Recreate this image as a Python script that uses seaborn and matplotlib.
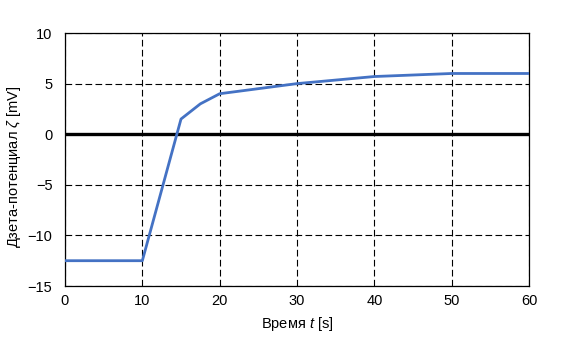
import matplotlib
matplotlib.use("Agg")
import matplotlib.pyplot as plt
import seaborn as sns
import pandas as pd

time_s = [0, 10, 15, 17.5, 20, 30, 40, 50, 60]
zeta_mv = [-12.5, -12.5, 1.5, 3.0, 4.0, 5.0, 5.7, 6.0, 6.0]
x_ticks = [0, 10, 20, 30, 40, 50, 60]
y_ticks = [-15, -10, -5, 0, 5, 10]

sns.set_theme(style="white")
plt.rcParams['font.family'] = ['Liberation Sans', 'DejaVu Sans']
plt.rcParams['mathtext.fontset'] = 'custom'
plt.rcParams['mathtext.rm'] = 'Liberation Sans'
plt.rcParams['mathtext.it'] = 'Liberation Sans:italic'
plt.rcParams['mathtext.default'] = 'it'

df = pd.DataFrame({"t": time_s, "z": zeta_mv})

fig = plt.figure(figsize=(5.72, 3.46), dpi=100)
ax = fig.add_axes([0.1136, 0.1734, 0.925 - 0.1136, 0.9046 - 0.1734])

ax.set_xlim(0, 60)
ax.set_ylim(-15, 10)
ax.set_xticks(x_ticks)
ax.set_yticks(y_ticks)
ax.grid(True, color="black", linestyle=(0, (6, 3)), linewidth=0.8)
ax.set_axisbelow(True)
ax.axhline(0, color="black", linewidth=2.4, zorder=2)

sns.lineplot(data=df, x="t", y="z", ax=ax, color="#4472C4", linewidth=2.0,
             sort=False, zorder=3)

for s in ax.spines.values():
    s.set_color("black")
    s.set_linewidth(0.9)

ax.tick_params(axis="both", which="both", length=0, labelsize=10.5, colors="black")
ax.tick_params(axis="y", pad=9)
ax.tick_params(axis="x", pad=6)
ax.set_xlabel("Время $t$ [s]", fontsize=10.5, color="black", labelpad=5)
ax.set_ylabel("Дзета-потенциал $\\zeta$ [mV]", fontsize=10.5, color="black")
ax.yaxis.set_label_coords(-0.09, 0.47)

fig.savefig("out.png", dpi=100)
